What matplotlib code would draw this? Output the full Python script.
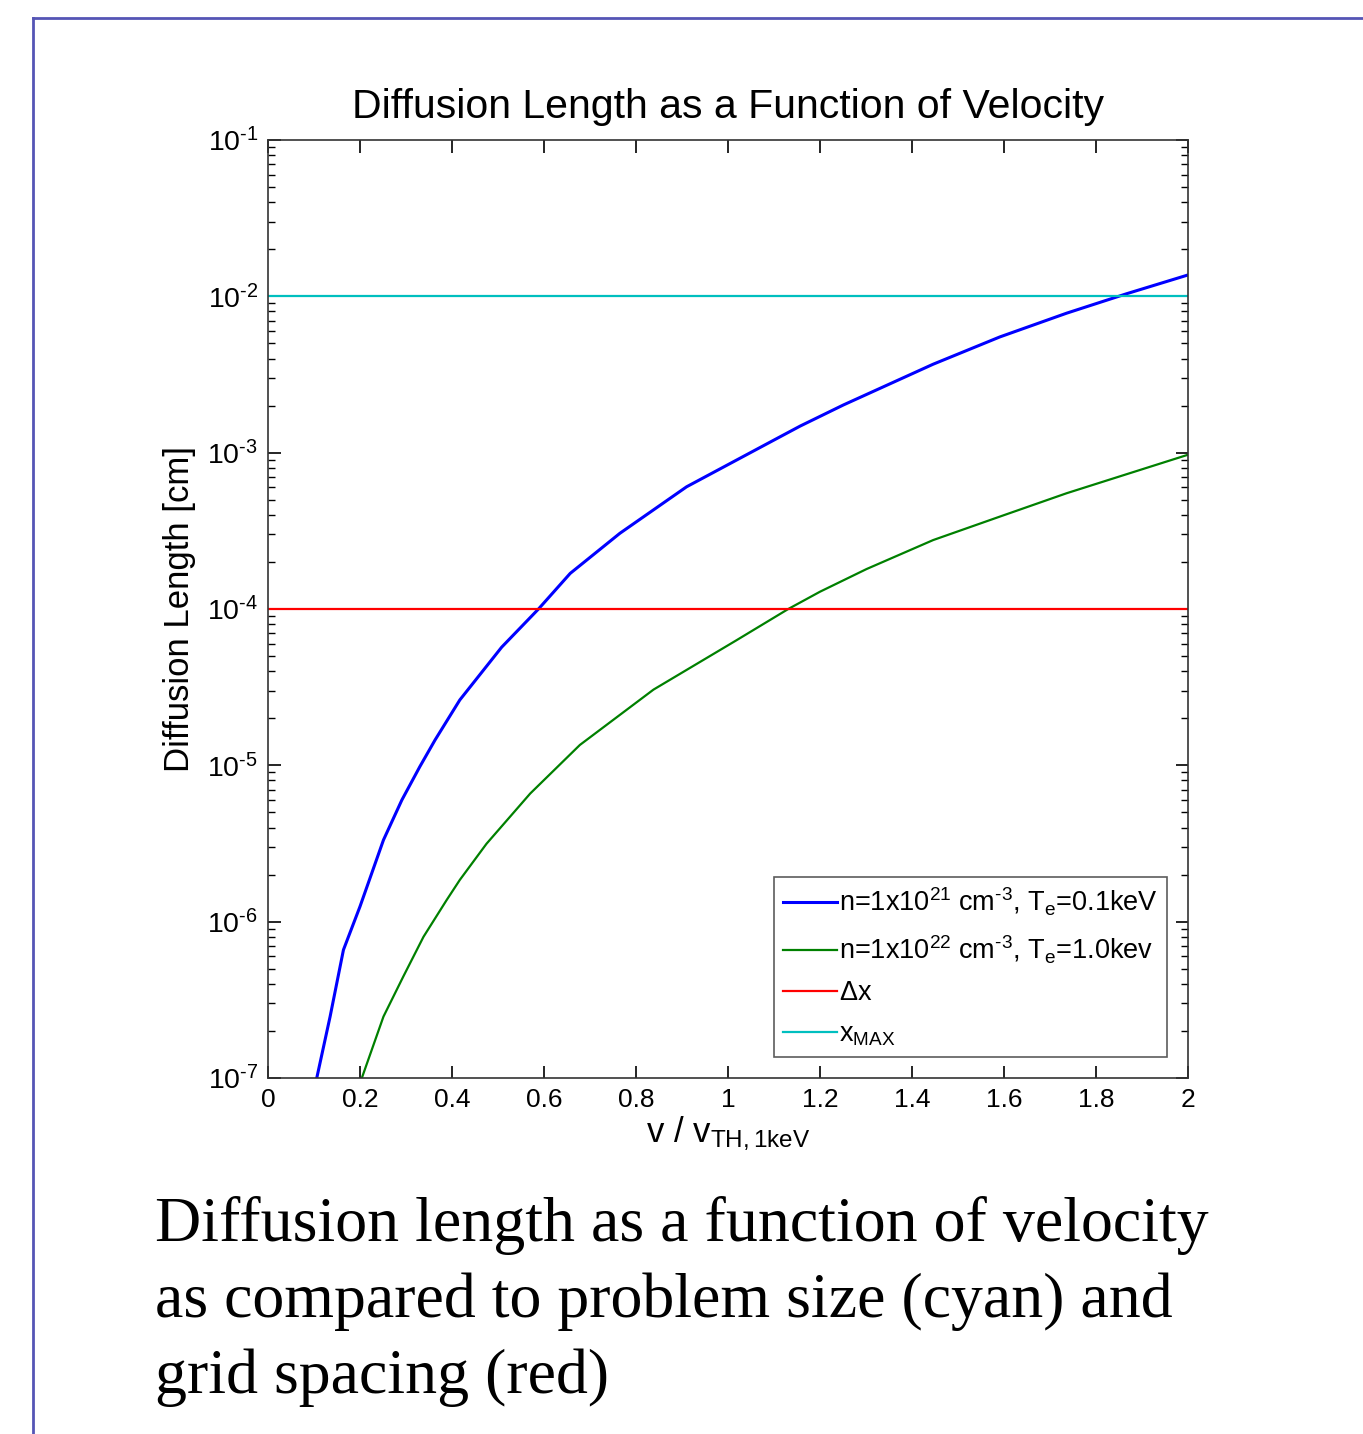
import matplotlib
matplotlib.use("Agg")
import matplotlib.pyplot as plt
import numpy as np
from matplotlib.ticker import LogLocator, FixedLocator, FuncFormatter, NullFormatter

plt.rcParams['font.family'] = ['Liberation Sans', 'DejaVu Sans']
plt.rcParams['mathtext.fontset'] = 'custom'
plt.rcParams['mathtext.rm'] = 'Liberation Sans'
plt.rcParams['mathtext.it'] = 'Liberation Sans'
plt.rcParams['mathtext.default'] = 'regular'

# Data
v_blue = [0.106, 0.135, 0.164, 0.200, 0.251, 0.291, 0.330, 0.363, 0.417, 0.508, 0.588, 0.657,
          0.765, 0.910, 1.099, 1.157, 1.251, 1.446, 1.591, 1.736, 1.867, 2.000]
L_blue = [1.0e-7, 2.47e-7, 6.6e-7, 1.25e-6, 3.33e-6, 6.0e-6, 9.8e-6, 1.45e-5, 2.62e-5, 5.7e-5, 1.0e-4, 1.69e-4,
          3.05e-4, 6.05e-4, 1.2e-3, 1.48e-3, 2.02e-3, 3.68e-3, 5.5e-3, 7.8e-3, 1.04e-2, 1.37e-2]
v_green = [0.204, 0.251, 0.294, 0.338, 0.388, 0.417, 0.475, 0.570, 0.678, 0.838, 1.018, 1.131,
           1.200, 1.301, 1.446, 1.591, 1.736, 2.000]
L_green = [1.0e-7, 2.47e-7, 4.45e-7, 8.0e-7, 1.37e-6, 1.85e-6, 3.15e-6, 6.6e-6, 1.35e-5, 3.05e-5, 6.3e-5, 1.0e-4,
           1.29e-4, 1.8e-4, 2.76e-4, 3.9e-4, 5.5e-4, 9.7e-4]
dx_value = 1e-4
xmax_value = 1e-2
labels = [r'n=1x10$^{21}$ cm$^{\text{-}3}$, T$_e$=0.1keV',
          r'n=1x10$^{22}$ cm$^{\text{-}3}$, T$_e$=1.0kev',
          r'$\Delta$x',
          r'x$_{MAX}$']
x_ticks = [0, 0.2, 0.4, 0.6, 0.8, 1, 1.2, 1.4, 1.6, 1.8, 2]
x_ticklabels = ['0', '0.2', '0.4', '0.6', '0.8', '1', '1.2', '1.4', '1.6', '1.8', '2']
caption_lines = ["Diffusion length as a function of velocity",
                 "as compared to problem size (cyan) and",
                 "grid spacing (red)"]

W, H = 1363, 1434
fig = plt.figure(figsize=(W / 100, H / 100), dpi=100)

# slide frame (blue border lines)
fig.add_artist(plt.Line2D([33 / W, 33 / W], [0, 1 - 18 / H], color='#5555b5', lw=2))
fig.add_artist(plt.Line2D([33 / W, 1], [1 - 18 / H, 1 - 18 / H], color='#5555b5', lw=2))

ax = fig.add_axes([268 / W, 1 - 1078 / H, (1188 - 268) / W, (1078 - 140) / H])

ax.semilogy(v_blue, L_blue, color=(0, 0, 1), lw=2.2, label=labels[0])
ax.semilogy(v_green, L_green, color=(0, 0.5, 0), lw=1.6, label=labels[1])
ax.axhline(dx_value, color=(1, 0, 0), lw=1.6, label=labels[2])
ax.axhline(xmax_value, color=(0, 0.75, 0.75), lw=1.6, label=labels[3])

ax.set_xlim(0, 2)
ax.set_ylim(1e-7, 1e-1)
ax.xaxis.set_major_locator(FixedLocator(x_ticks))
ax.set_xticklabels(x_ticklabels)
ax.yaxis.set_major_locator(LogLocator(base=10, numticks=20))
ax.yaxis.set_minor_locator(LogLocator(base=10, subs=np.arange(2, 10), numticks=20))
ax.yaxis.set_minor_formatter(NullFormatter())
ax.yaxis.set_major_formatter(FuncFormatter(
    lambda y, p: r'10$^{\text{-}%d}$' % abs(int(round(np.log10(y))))))

ax.tick_params(axis='both', which='both', direction='in', top=True, right=True,
               labelsize=19, pad=7)
ax.tick_params(axis='y', which='major', labelsize=20.5)
ax.tick_params(axis='both', which='major', length=9, width=1.2)
ax.tick_params(axis='y', which='minor', length=5, width=1.0)
for s in ax.spines.values():
    s.set_linewidth(1.2)
    s.set_color('#333333')

ax.set_title('Diffusion Length as a Function of Velocity', fontsize=29.5, pad=16)
ax.set_ylabel('Diffusion Length [cm]', fontsize=25, labelpad=8)
ax.set_xlabel(r'v / v$_{TH,1keV}$', fontsize=25, labelpad=2)

leg = ax.legend(loc='lower right', bbox_to_anchor=(0.977, 0.022), fontsize=19.5,
                frameon=True, fancybox=False, edgecolor='#333333',
                handlelength=2.0, handletextpad=0.05, borderpad=0.35, labelspacing=0.55,
                borderaxespad=0)
leg.get_frame().set_linewidth(1.2)

for i, line in enumerate(caption_lines):
    fig.text(155 / W, 1 - (1241 + 76 * i) / H, line,
             family=['Liberation Serif', 'DejaVu Serif'],
             fontsize=46, va='baseline', ha='left')

fig.savefig('out.png', dpi=100)
